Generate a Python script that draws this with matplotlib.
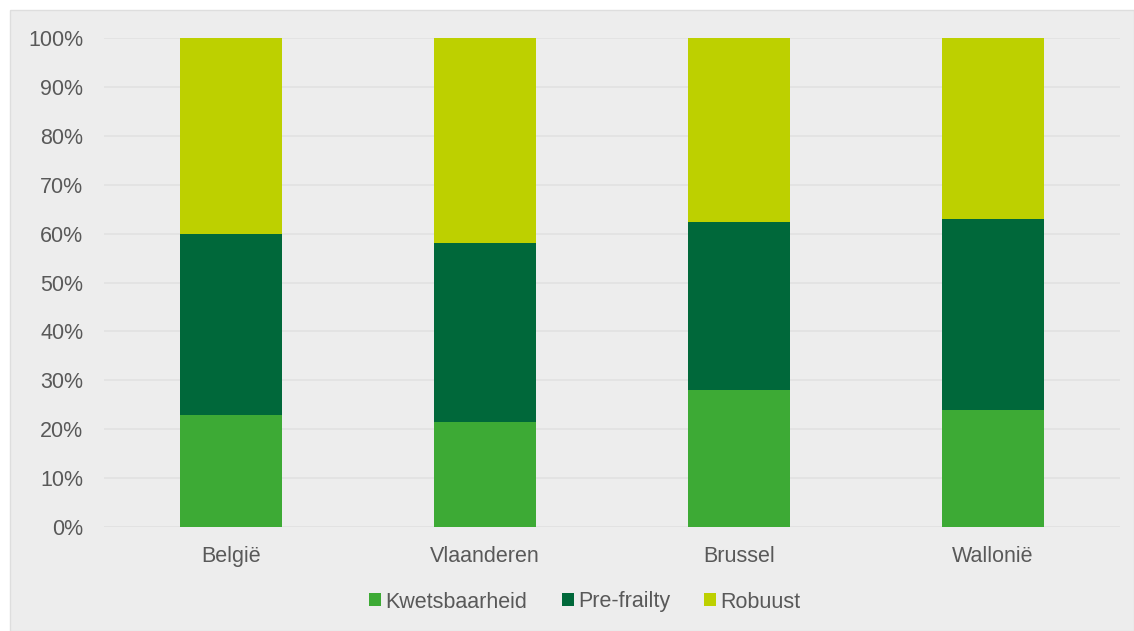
import matplotlib.pyplot as plt
from matplotlib.patches import Rectangle, Patch

plt.rcParams['font.family'] = ['Liberation Sans', 'DejaVu Sans']

regions = ["België", "Vlaanderen", "Brussel", "Wallonië"]
kwetsbaarheid = [22.9, 21.5, 28.0, 23.9]
pre_frailty = [37.0, 36.6, 34.4, 39.1]
robuust = [40.1, 41.9, 37.6, 37.0]

series_names = ["Kwetsbaarheid", "Pre-frailty", "Robuust"]
colors = ["#3daa35", "#00683a", "#bdd000"]

fig = plt.figure(figsize=(11.34, 6.31), dpi=100, facecolor="white")
# grijs paneel achter de grafiek
fig.patches.append(Rectangle((10 / 1134, 0), 1 - 10 / 1134, 1 - 10 / 631,
                             transform=fig.transFigure, facecolor="#ededed",
                             edgecolor="#dedede", linewidth=1, zorder=-10))

ax = fig.add_axes([104 / 1134, 1 - 527 / 631, 1016 / 1134, 489 / 631])
ax.set_facecolor("none")

x = range(len(regions))
bottom = [0] * len(regions)
for vals, name, col in zip([kwetsbaarheid, pre_frailty, robuust], series_names, colors):
    ax.bar(x, vals, bottom=bottom, width=0.4, color=col, label=name, zorder=3)
    bottom = [b + v for b, v in zip(bottom, vals)]

ax.set_xlim(-0.5, len(regions) - 0.5)
ax.set_ylim(0, 100)
ax.set_yticks(range(0, 101, 10))
ax.set_yticklabels([f"{t}%" for t in range(0, 101, 10)])
ax.set_xticks(list(x))
ax.set_xticklabels(regions)
ax.tick_params(axis="y", length=0, pad=15, labelsize=15.5, labelcolor="#595959")
ax.tick_params(axis="x", length=0, pad=14, labelsize=15.5, labelcolor="#595959")
ax.grid(axis="y", color="#e2e2e2", linewidth=1.2, zorder=0)
for s in ax.spines.values():
    s.set_visible(False)
ax.axhline(0, color="#e2e2e2", linewidth=1.2, zorder=1)

handles = [Patch(facecolor=c, label=n) for n, c in zip(series_names, colors)]
fig.legend(handles=handles, loc="center", bbox_to_anchor=(585 / 1134, 1 - 602 / 631),
           ncol=3, frameon=False, fontsize=15.5, labelcolor="#595959",
           handlelength=0.55, handleheight=0.55, handletextpad=0.2, columnspacing=1.6)

fig.savefig("out.png", dpi=100, facecolor="white")
